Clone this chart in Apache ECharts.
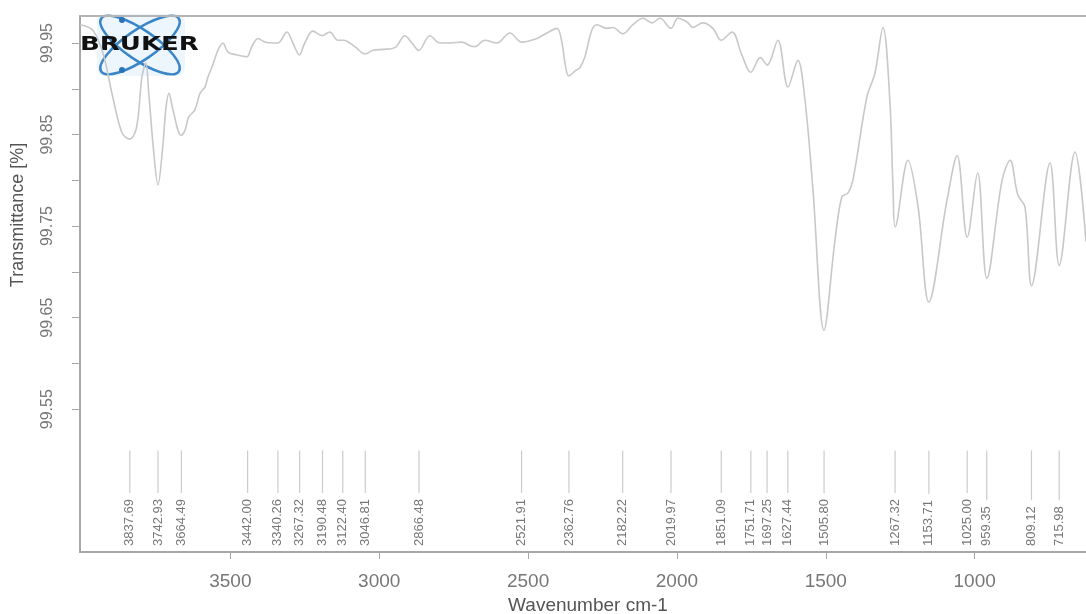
<!DOCTYPE html>
<html>
<head>
<meta charset="utf-8">
<title>IR spectrum</title>
<script src="https://cdn.jsdelivr.net/npm/echarts@6/dist/echarts.min.js"></script>
<style>
  html, body { margin: 0; padding: 0; background: #fff; }
  #chart { width: 1086px; height: 614px; }
</style>
</head>
<body>
<div id="chart"></div>
<script>
// trace: wavenumber (cm-1) and transmittance (%)
const wavenumbers = [
  4005, 3962, 3928, 3895, 3864, 3838, 3815, 3797, 3784, 3774, 3758, 3743, 3728, 3716, 3706, 3693,
  3665, 3652, 3640, 3619, 3602, 3585, 3575, 3559, 3542, 3525, 3508, 3478, 3445, 3428, 3407, 3384,
  3357, 3340, 3310, 3290, 3268, 3250, 3223, 3192, 3166, 3139, 3120, 3082, 3047, 3021, 2988, 2947,
  2914, 2890, 2867, 2830, 2796, 2762, 2722, 2695, 2679, 2645, 2605, 2561, 2522, 2470, 2437, 2403,
  2386, 2376, 2363, 2340, 2326, 2309, 2286, 2269, 2235, 2215, 2182, 2148, 2114, 2084, 2057, 2020,
  1997, 1966, 1946, 1913, 1879, 1851, 1815, 1782, 1752, 1720, 1697, 1661, 1627, 1594, 1570, 1543,
  1506, 1469, 1446, 1426, 1409, 1362, 1335, 1308, 1285, 1274, 1267, 1224, 1190, 1154, 1093, 1059,
  1025, 990, 959, 908, 881, 855, 831, 809, 747, 716, 663, 626
];
const transmittance = [
  99.970, 99.964, 99.939, 99.891, 99.852, 99.845, 99.858, 99.913, 99.928, 99.895, 99.833, 99.795, 99.833, 99.880, 99.895, 99.877,
  99.849, 99.855, 99.869, 99.877, 99.895, 99.902, 99.913, 99.926, 99.942, 99.950, 99.940, 99.937, 99.935, 99.946, 99.955, 99.951,
  99.950, 99.950, 99.962, 99.950, 99.937, 99.950, 99.963, 99.958, 99.962, 99.953, 99.953, 99.946, 99.938, 99.942, 99.943, 99.945,
  99.958, 99.950, 99.942, 99.958, 99.950, 99.950, 99.951, 99.947, 99.946, 99.953, 99.950, 99.961, 99.951, 99.955, 99.961, 99.966,
  99.950, 99.928, 99.914, 99.920, 99.923, 99.935, 99.964, 99.970, 99.966, 99.967, 99.960, 99.970, 99.977, 99.972, 99.977, 99.966,
  99.977, 99.973, 99.967, 99.972, 99.966, 99.953, 99.962, 99.937, 99.918, 99.934, 99.926, 99.953, 99.902, 99.931, 99.888, 99.789,
  99.636, 99.735, 99.782, 99.786, 99.800, 99.891, 99.917, 99.967, 99.888, 99.789, 99.749, 99.822, 99.771, 99.667, 99.778, 99.827,
  99.738, 99.808, 99.693, 99.800, 99.822, 99.784, 99.771, 99.685, 99.819, 99.707, 99.831, 99.733
];
const peakPositions = [
  3837.69, 3742.93, 3664.49, 3442.00, 3340.26, 3267.32, 3190.48, 3122.40, 3046.81, 2866.48,
  2521.91, 2362.76, 2182.22, 2019.97, 1851.09, 1751.71, 1697.25, 1627.44, 1505.80, 1267.32,
  1153.71, 1025.00, 959.35, 809.12, 715.98
];
const xTickValues = [3500, 3000, 2500, 2000, 1500, 1000];
const yTickValues = [99.55, 99.60, 99.65, 99.70, 99.75, 99.80, 99.85, 99.90, 99.95];
const yLabelValues = [99.55, 99.65, 99.75, 99.85, 99.95];

const X_MIN = 626, X_MAX = 4005;
const Y_MIN = 99.394, Y_MAX = 99.9795;

const axisGray = '#a8a8a8';
const labelGray = '#777';
const peakFont = '13px "Liberation Sans"';

const measureCtx = document.createElement('canvas').getContext('2d');
measureCtx.font = peakFont;

const chart = echarts.init(document.getElementById('chart'));

chart.setOption({
  animation: false,
  grid: { left: 80, top: 16, right: 0, bottom: 62 },
  xAxis: [
    {
      type: 'value', inverse: true, min: X_MIN, max: X_MAX,
      axisLine: { lineStyle: { color: axisGray, width: 2 } },
      axisTick: { customValues: xTickValues, length: 7, lineStyle: { color: axisGray } },
      axisLabel: {
        customValues: xTickValues, margin: 20, fontSize: 19,
        color: labelGray, fontFamily: 'Liberation Sans',
        formatter: v => String(v)
      },
      splitLine: { show: false }
    },
    {
      // top frame line only
      type: 'value', position: 'top', inverse: true, min: X_MIN, max: X_MAX,
      axisLine: { show: true, lineStyle: { color: '#b4b4b4', width: 2 } },
      axisTick: { show: false },
      axisLabel: { show: false },
      splitLine: { show: false }
    }
  ],
  yAxis: {
    type: 'value', min: Y_MIN, max: Y_MAX,
    axisLine: { show: true, lineStyle: { color: axisGray, width: 2 } },
    axisTick: { show: true, customValues: yTickValues, length: 8, lineStyle: { color: axisGray } },
    axisLabel: {
      customValues: yLabelValues, rotate: 90, margin: 24, fontSize: 16,
      color: labelGray, fontFamily: 'Liberation Sans',
      formatter: v => v.toFixed(2)
    },
    splitLine: { show: false }
  },
  graphic: [
    {
      type: 'text', x: 18, y: 215, rotation: Math.PI / 2,
      style: { text: 'Transmittance [%]', fill: '#555', fontSize: 18, fontFamily: 'Liberation Sans', align: 'center', verticalAlign: 'middle' }
    },
    {
      type: 'text', x: 588, y: 606,
      style: { text: 'Wavenumber cm-1', fill: '#555', fontSize: 19, fontFamily: 'Liberation Sans', align: 'center', verticalAlign: 'middle' }
    },
    // Bruker logo
    {
      type: 'group', z: 100,
      children: [
        { type: 'rect', shape: { x: 97, y: 14, width: 88, height: 62, r: 8 }, style: { fill: 'rgba(215,234,250,0.45)' } },
        { type: 'ellipse', x: 140, y: 45, rotation: 0.6, shape: { cx: 0, cy: 0, rx: 47, ry: 15 }, style: { fill: 'none', stroke: '#3a86c8', lineWidth: 2.5 } },
        { type: 'ellipse', x: 140, y: 45, rotation: -0.6, shape: { cx: 0, cy: 0, rx: 47, ry: 15 }, style: { fill: 'none', stroke: '#3a86c8', lineWidth: 2.5 } },
        { type: 'circle', shape: { cx: 122, cy: 20, r: 3 }, style: { fill: '#2a72b8' } },
        { type: 'circle', shape: { cx: 122, cy: 70, r: 3 }, style: { fill: '#2a72b8' } },
        {
          type: 'text', x: 80, y: 45, scaleX: 1.3,
          style: { text: 'BRUKER', fill: '#111', fontSize: 20, fontWeight: 'bold', fontFamily: 'DejaVu Sans', align: 'left', verticalAlign: 'middle' }
        }
      ]
    }
  ],
  series: [
    {
      type: 'line',
      data: wavenumbers.map((w, i) => [w, transmittance[i]]),
      smooth: 0.35,
      showSymbol: false,
      lineStyle: { color: '#c8c8c8', width: 1.6 },
      silent: true
    },
    {
      type: 'custom',
      data: peakPositions.map(p => [p]),
      encode: { x: 0 },
      silent: true,
      renderItem: function (params, api) {
        const v = api.value(0);
        const x = api.coord([v, Y_MIN])[0];
        const yTop = api.coord([v, 99.505])[1];
        const yBase = api.coord([v, Y_MIN])[1] - 6;
        const text = v.toFixed(2);
        const w = measureCtx.measureText(text).width;
        return {
          type: 'group',
          children: [
            {
              type: 'line',
              shape: { x1: x, y1: yTop, x2: x, y2: yBase - w - 6 },
              style: { stroke: '#cccccc', lineWidth: 1.2 }
            },
            {
              type: 'text', x: x, y: yBase, rotation: Math.PI / 2,
              style: { text: text, fill: labelGray, font: peakFont, align: 'left', verticalAlign: 'middle' }
            }
          ]
        };
      }
    }
  ]
});
</script>
</body>
</html>
